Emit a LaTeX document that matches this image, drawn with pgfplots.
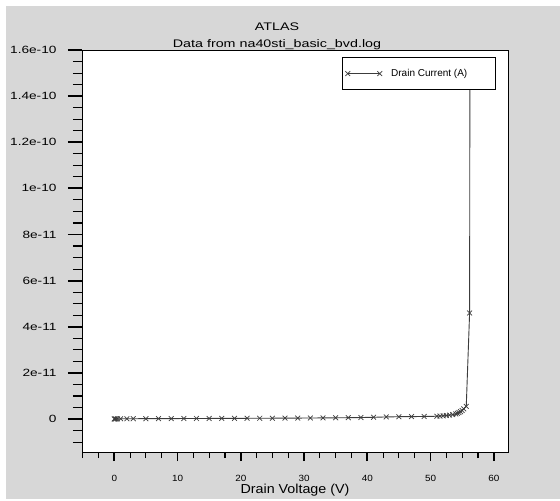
\documentclass[border=0pt]{standalone}
\usepackage{fontspec}
\setmainfont{Liberation Sans}
\usepackage{graphicx}
\usepackage{pgfplots}
\pgfplotsset{compat=1.18}
\definecolor{panel}{RGB}{215,215,215}
\definecolor{curve}{RGB}{60,60,60}
\newcommand{\wide}[1]{\scalebox{1.3}[1]{#1}}
\newcommand{\xwide}[1]{\scalebox{1.1}[1]{#1}}
\newcommand{\tickfont}{\fontsize{10.5}{12}\selectfont}

\pgfplotsset{
  frame/.style={
    at={(82pt,49pt)}, anchor=south west,
    scale only axis, width=426pt, height=402pt,
    xmin=-5.1, xmax=62.25, ymin=-1.43e-11, ymax=1.6e-10,
    tick align=outside,
    scaled y ticks=false,
    axis line style={line width=0.9pt},
    major tick style={line width=1.8pt, black},
    minor tick style={line width=1.1pt, black},
    tick label style={font=\tickfont},
    /pgf/number format/assume math mode=true,
  },
  curvestyle/.style={curve, line width=0.9pt, mark=x, mark size=3.4pt,
    mark options={line width=0.7pt}},
}

\begin{document}
\begin{tikzpicture}[x=1pt,y=1pt]
\fill[white] (0,0) rectangle (560,501);
\fill[panel] (6,2) rectangle (560,495);

% y ticks, curve, legend and title
\begin{axis}[
    frame,
    axis background/.style={fill=white},
    xtick=\empty,
    ytick pos=left,
    ytick={0,2e-11,4e-11,6e-11,8e-11,1e-10,1.2e-10,1.4e-10,1.6e-10},
    yticklabels={\wide{0},\wide{2e-11},\wide{4e-11},\wide{6e-11},\wide{8e-11},
      \wide{1e-10},\wide{1.2e-10},\wide{1.4e-10},\wide{1.6e-10}},
    yticklabel style={xshift=-8pt},
    minor ytick={-1e-11,-0.5e-11,0.5e-11,1e-11,1.5e-11,2.5e-11,3e-11,3.5e-11,
      4.5e-11,5e-11,5.5e-11,6.5e-11,7e-11,7.5e-11,8.5e-11,9e-11,9.5e-11,
      1.05e-10,1.1e-10,1.15e-10,1.25e-10,1.3e-10,1.35e-10,1.45e-10,1.5e-10,1.55e-10},
    major tick length=14pt,
    minor tick length=9pt,
    title={\scalebox{1.3}[1]{ATLAS}\\\scalebox{1.3}[1]{Data from na40sti\_basic\_bvd.log}},
    title style={align=center, font=\fontsize{11}{17}\selectfont,
      yshift=-9pt, xshift=-18pt},
    legend style={at={(0.971,0.982)}, anchor=north east, draw=black,
      line width=0.9pt, fill=white, font=\fontsize{10}{11}\selectfont,
      inner xsep=3pt, inner ysep=9.5pt, column sep=7pt},
    legend cell align=left,
    legend image code/.code={\draw[mark repeat=1,#1] plot coordinates {(0pt,0pt) (32pt,0pt)};},
]
\addplot[curvestyle] coordinates {
  (0,2e-14) (0.1,3e-14) (0.25,5e-14) (0.5,7e-14) (1,9e-14) (2,1.1e-13)
  (3,1.3e-13) (5,1.5e-13) (7,1.7e-13) (9,1.9e-13) (11,2.1e-13) (13,2.3e-13)
  (15,2.5e-13) (17,2.7e-13) (19,2.9e-13) (21,3.1e-13) (23,3.3e-13)
  (25,3.5e-13) (27,3.8e-13) (29,4.1e-13) (31,4.4e-13) (33,4.8e-13)
  (35,5.2e-13) (37,5.8e-13) (39,6.5e-13) (41,7.5e-13) (43,9e-13)
  (45,1e-12) (47,1.05e-12) (49,1.1e-12) (51,1.2e-12) (51.5,1.3e-12)
  (52,1.4e-12) (52.5,1.5e-12) (53,1.7e-12) (53.5,1.9e-12) (54,2.2e-12)
  (54.25,2.5e-12) (54.5,2.8e-12) (54.75,3.2e-12) (55,3.7e-12)
  (55.25,4.4e-12) (55.65,5.5e-12) (56.18,4.6e-11)
};
\addlegendentry{\makebox[99pt][l]{Drain Current (A)}}
% visible rest of the rise, up to where the legend box hides it
\addplot[curve, line width=0.9pt, no marks, forget plot] coordinates {
  (56.18,4.6e-11) (56.22,1.432e-10)
};
\end{axis}

% x ticks and x label
\begin{axis}[
    frame,
    ytick=\empty,
    xtick pos=left,
    xtick={0,10,20,30,40,50,60},
    xticklabels={\xwide{0},\xwide{10},\xwide{20},\xwide{30},\xwide{40},\xwide{50},\xwide{60}},
    xticklabel style={font=\fontsize{9}{11}\selectfont, yshift=-11pt},
    minor xtick={-5,-2.5,2.5,5,7.5,12.5,15,17.5,22.5,25,27.5,32.5,35,37.5,
      42.5,45,47.5,52.5,55,57.5},
    major tick length=9pt,
    minor tick length=6pt,
    xlabel={\scalebox{1.1}[1]{Drain Voltage (V)}},
    xlabel style={font=\fontsize{13}{15}\selectfont,
      at={(0.5,-0.0945)}, anchor=center},
]
\end{axis}
\end{tikzpicture}
\end{document}
